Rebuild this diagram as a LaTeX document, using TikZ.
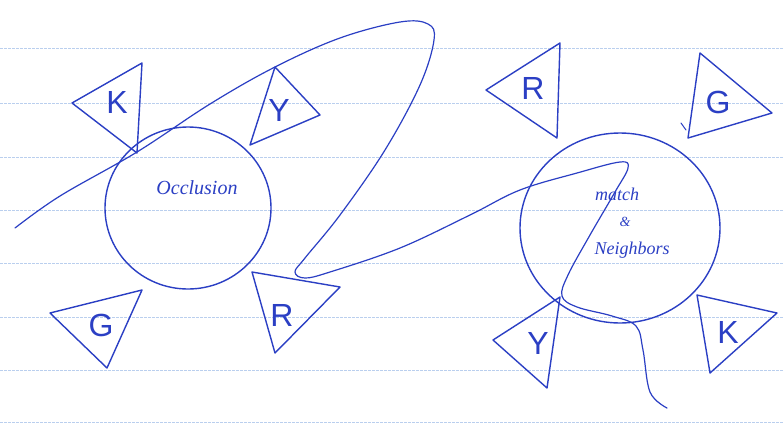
\documentclass[tikz,border=0pt]{standalone}
\usepackage{fontspec}
\setmainfont{Liberation Sans}
\newfontfamily\handfont{Liberation Serif}
\usetikzlibrary{shapes.geometric}
\definecolor{ink}{HTML}{2B3FC4}
\definecolor{paperline}{HTML}{A9C4EA}
\tikzset{
  inkline/.style={draw=ink, line width=1.4pt, line join=round, line cap=round},
  blob/.style={ellipse, inkline, inner sep=0pt},
  flagtri/.style={inkline},
  letter/.style={text=ink, font=\fontsize{32}{32}\selectfont},
  blobtext/.style={text=ink, font=\handfont\itshape\fontsize{20}{22}\selectfont, align=center},
  ruled/.style={draw=paperline, line width=1pt, dash pattern=on 3pt off 1pt, opacity=0.8}
}
\begin{document}
\begin{tikzpicture}[x=1pt,y=-1pt]
\useasboundingbox (0,0) rectangle (784,424);
\fill[white] (0,0) rectangle (784,424);
% ruled paper lines
\foreach \yy in {48,103,157,210,263,317,370,422}{
  \draw[ruled] (0,\yy) -- (784,\yy);
}
% circles
\node[blob, minimum width=166pt, minimum height=162pt] (occ) at (188,208) {};
\node[blob, minimum width=200pt, minimum height=190pt] (mn) at (620,228) {};
\node[blobtext] (occlabel) at (197,188) {Occlusion};
\node[blobtext, font=\handfont\itshape\fontsize{18}{20}\selectfont] (matchlabel) at (617,194) {match};
\node[blobtext, font=\handfont\itshape\fontsize{14}{16}\selectfont] (amp) at (625,222) {\&};
\node[blobtext, font=\handfont\itshape\fontsize{18}{20}\selectfont] (neighlabel) at (632,250) {Neighbors};
% left circle flags
\draw[flagtri] (142,63) -- (72,103) -- (137,153) -- cycle;
\node[letter] (lk) at (117,102) {K};
\draw[flagtri] (275,67) -- (320,115) -- (250,145) -- cycle;
\node[letter] (ly) at (279,110) {Y};
\draw[flagtri] (50,313) -- (142,290) -- (107,368) -- cycle;
\node[letter] (lg) at (101,325) {G};
\draw[flagtri] (252,272) -- (340,287) -- (275,353) -- cycle;
\node[letter] (lr) at (282,315) {R};
% right circle flags
\draw[flagtri] (560,43) -- (486,90) -- (557,138) -- cycle;
\node[letter] (rr) at (533,88) {R};
\draw[flagtri] (700,53) -- (772,113) -- (688,138) -- cycle;
\node[letter] (rg) at (718,102) {G};
\draw[flagtri] (560,297) -- (493,340) -- (547,388) -- cycle;
\node[letter] (ry) at (538,343) {Y};
\draw[flagtri] (697,295) -- (777,313) -- (710,373) -- cycle;
\node[letter] (rk) at (728,332) {K};
% small tick near right G flag
\draw[inkline, line width=1pt] (681,123) -- (686,130);
% freehand loop line
\coordinate (start) at (15,228);
\coordinate (finish) at (667,408);
\draw[inkline, line width=1.2pt] plot[smooth, tension=0.6] coordinates {
 (15,228) (60,196) (137,152) (210,104) (275,67) (340,38) (400,22) (428,24) (434,40)
 (420,85) (385,150) (340,215) (305,258) (295,272) (305,278) (330,272) (400,248)
 (470,215) (520,190) (577,173) (620,162) (628,168) (615,192) (590,235) (568,275)
 (562,296) (577,307) (612,316) (636,326) (643,350) (650,392) (667,408)
};
\end{tikzpicture}
\end{document}
